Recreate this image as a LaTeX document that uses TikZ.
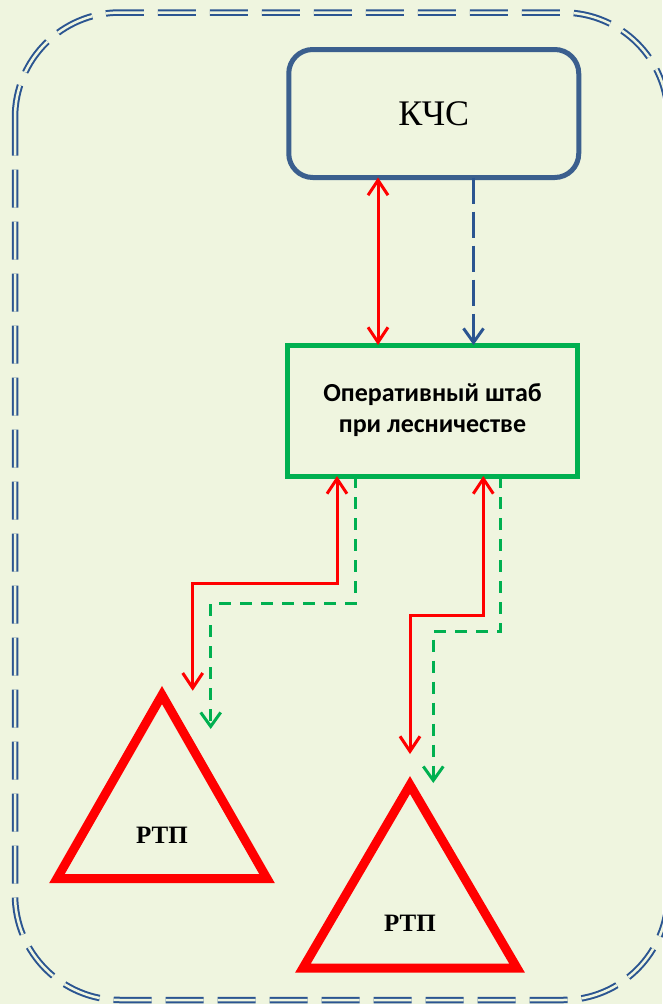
\documentclass[tikz,border=0pt]{standalone}
\usepackage{fontspec}
\setmainfont{Liberation Serif}
\newfontfamily\calfont{Carlito}
\usetikzlibrary{arrows.meta}

\definecolor{bgcol}{HTML}{EFF5DF}
\definecolor{frameblue}{HTML}{2B5591}
\definecolor{kchsblue}{HTML}{3B5F8E}
\definecolor{shtabgreen}{HTML}{00B050}
\definecolor{rtpred}{HTML}{FF0000}

\tikzset{
    kchsbox/.style={draw=kchsblue, line width=5pt, rounded corners=24pt, minimum width=290pt,
        minimum height=128pt, outer sep=0pt, font=\fontsize{36}{40}\selectfont},
    shtabbox/.style={draw=shtabgreen, line width=5pt, minimum width=290pt, minimum height=131pt,
        outer sep=0pt, align=center, font=\calfont\bfseries\fontsize{26}{31}\selectfont},
    rtpshape/.style={draw=rtpred, line width=9pt, line join=miter},
    rtplabel/.style={font=\bfseries\fontsize{25}{28}\selectfont},
    redarrow/.style={draw=rtpred, line width=3pt,
        {Straight Barb[length=15pt,width=20pt]}-{Straight Barb[length=15pt,width=20pt]}},
    greendash/.style={draw=shtabgreen, line width=3pt, dash pattern=on 12pt off 9pt,
        -{Straight Barb[length=14pt,width=20pt]}},
    bluedash/.style={draw=frameblue, line width=3pt, dash pattern=on 26pt off 8pt,
        -{Straight Barb[length=14pt,width=20pt]}},
    frameline/.style={draw=frameblue, line width=2pt, double=bgcol, double distance=2.5pt,
        rounded corners=105pt, dash pattern=on 38pt off 14pt}
}

\begin{document}
\begin{tikzpicture}[x=1pt, y=-1pt]
    \fill[bgcol] (0,0) rectangle (662,1004);
    \useasboundingbox (0,0) rectangle (662,1004);

    \draw[frameline] (15,12.5) rectangle (668,1000);

    \node[kchsbox] (kchs) at (433.75,113.5) {КЧС};
    \node[shtabbox] (shtab) at (432.5,410.5) {Оперативный штаб\\при лесничестве};

    \coordinate (xr) at (378,0);
    \coordinate (xb) at (473.5,0);
    \draw[redarrow] (xr |- kchs.south) -- (xr |- shtab.north);
    \draw[bluedash] (xb |- kchs.south) -- (xb |- shtab.north);

    \coordinate (xA) at (337,0);
    \coordinate (xB) at (355.7,0);
    \coordinate (xC) at (483.3,0);
    \coordinate (xD) at (500.7,0);
    \coordinate (tipA) at (192.7,690.7);
    \coordinate (tipB) at (210.7,729);
    \coordinate (tipC) at (410,754);
    \coordinate (tipD) at (433.3,783);

    \draw[redarrow] (xA |- shtab.south) -- ++(0,107) -| (tipA);
    \draw[greendash] (xB |- shtab.south) -- ++(0,127) -| (tipB);
    \draw[redarrow] (xC |- shtab.south) -- ++(0,139) -| (tipC);
    \draw[greendash] (xD |- shtab.south) -- ++(0,155) -| (tipD);

    \draw[rtpshape] (162,695) -- (267,878.5) -- (57,878.5) -- cycle;
    \node[rtplabel] (rtpA) at (162,835) {РТП};
    \draw[rtpshape] (410,785) -- (517,968) -- (303,968) -- cycle;
    \node[rtplabel] (rtpB) at (410,923) {РТП};
\end{tikzpicture}
\end{document}
